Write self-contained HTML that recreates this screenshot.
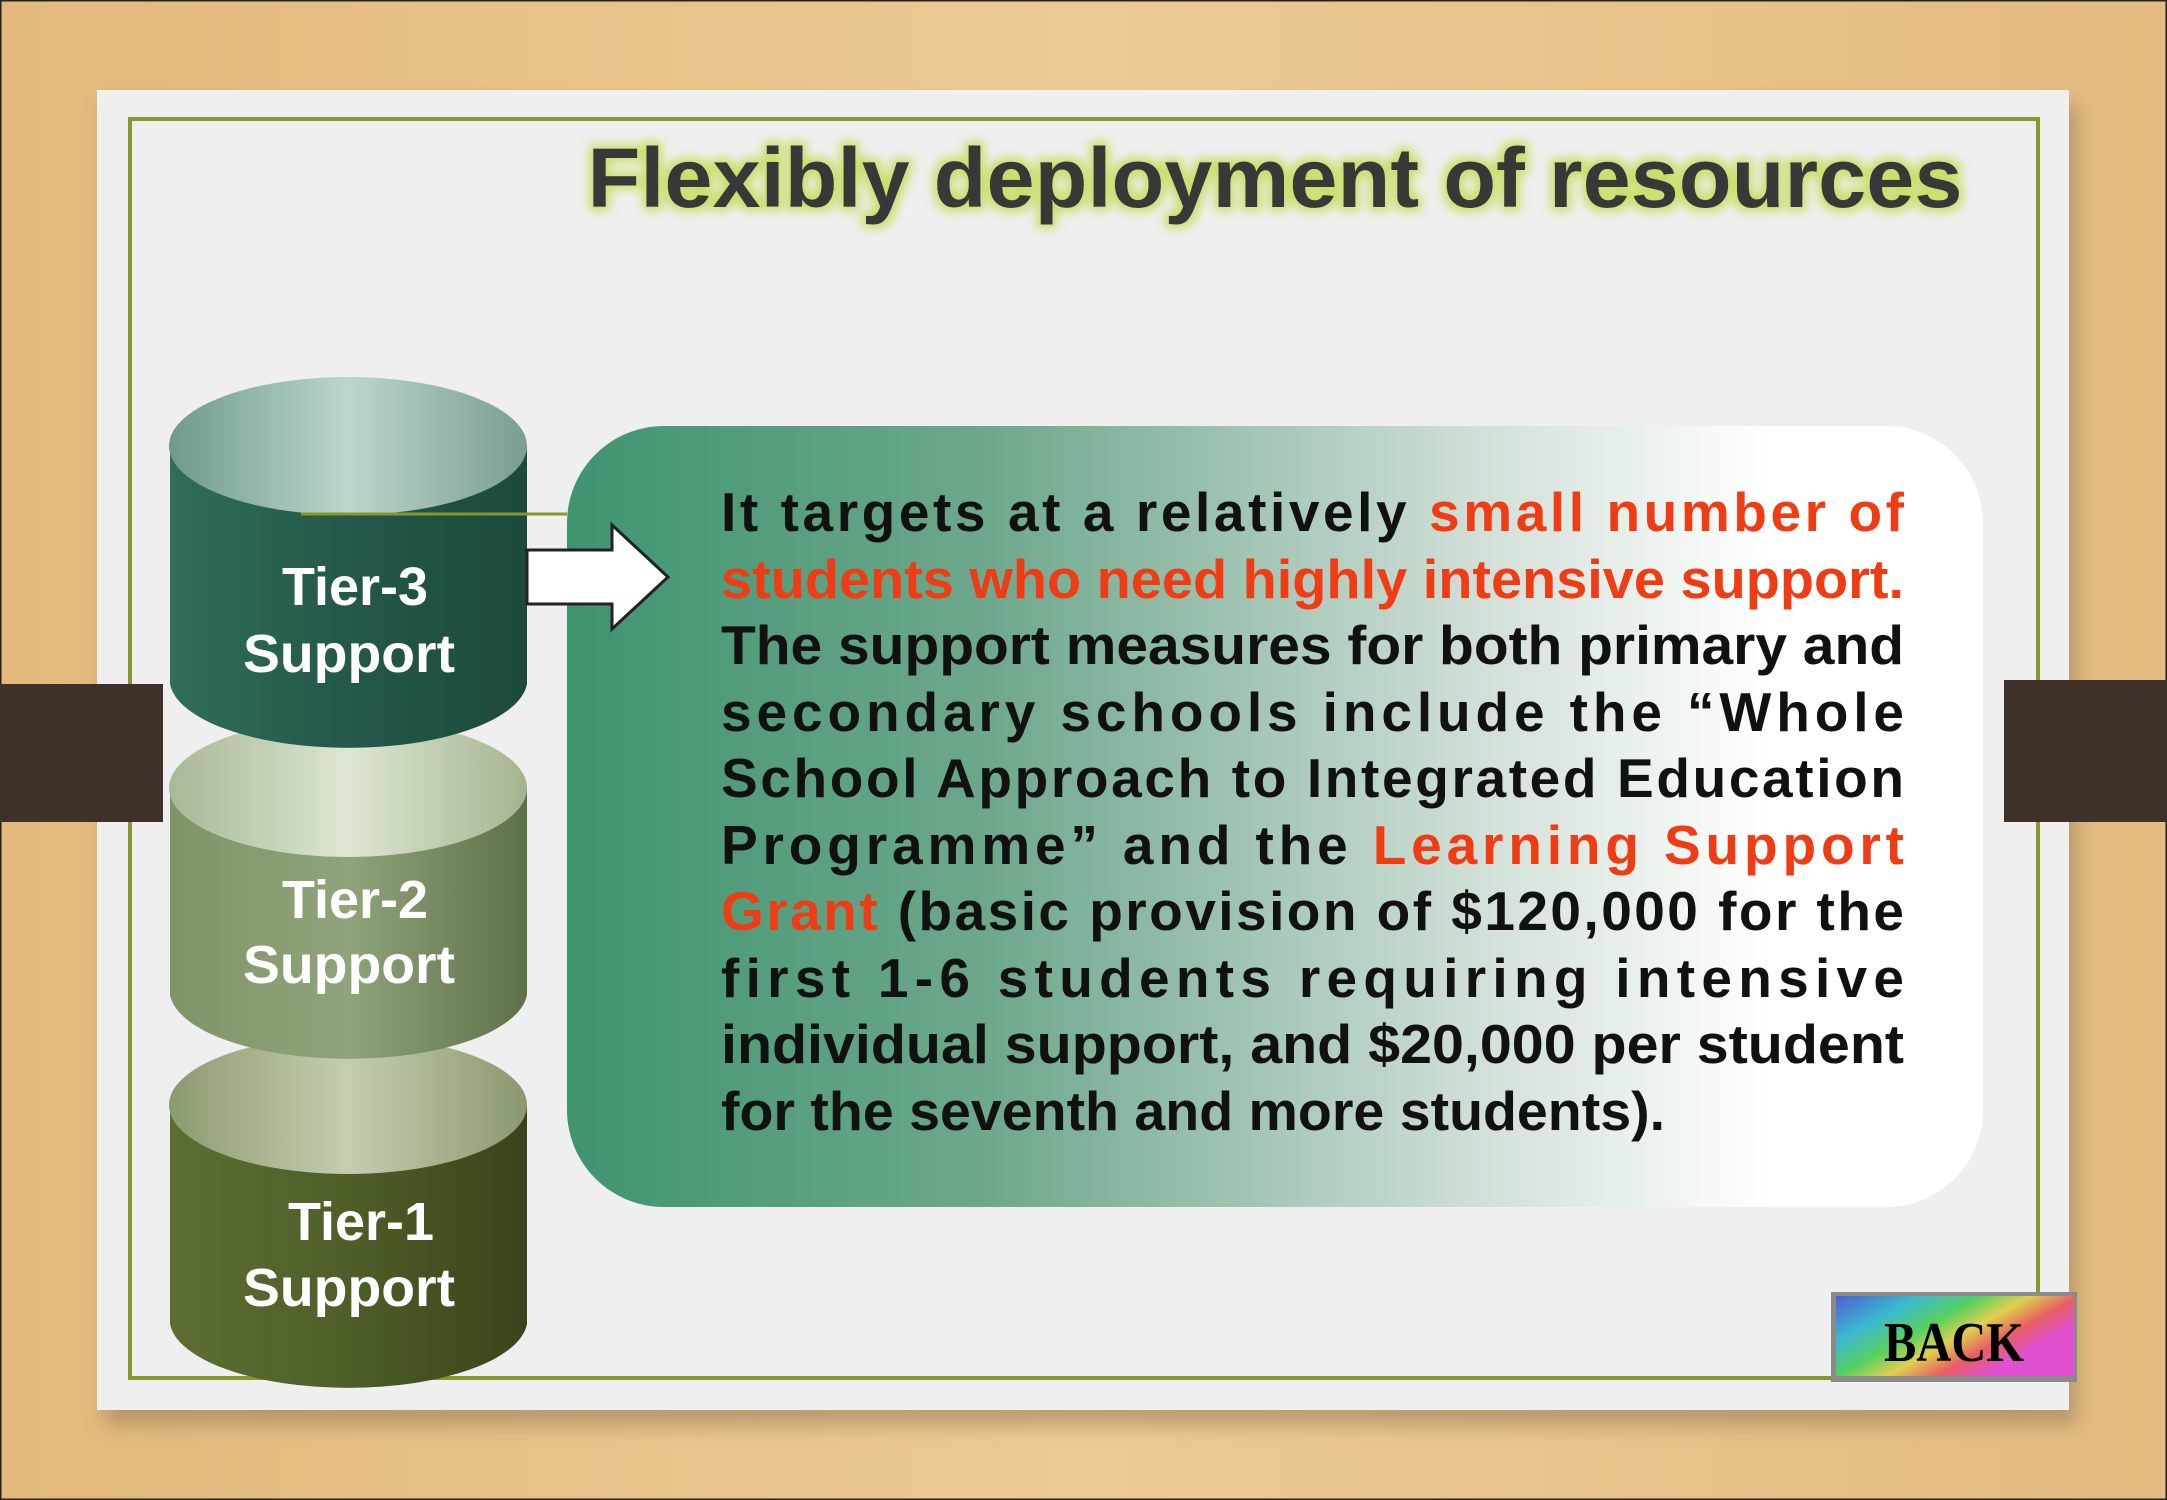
<!DOCTYPE html>
<html><head><meta charset="utf-8"><style>
html,body{margin:0;padding:0;width:2167px;height:1500px;overflow:hidden;background:#e6c188}
svg{display:block}
</style></head><body>
<svg width="2167" height="1500" viewBox="0 0 2167 1500" xmlns="http://www.w3.org/2000/svg">
<defs>
<linearGradient id="wood" x1="0" y1="0" x2="1" y2="0">
<stop offset="0" stop-color="#e3b97c"/><stop offset="0.5" stop-color="#ecca94"/><stop offset="1" stop-color="#e4bb80"/></linearGradient>
<linearGradient id="box" x1="0" y1="0" x2="1" y2="0">
<stop offset="0" stop-color="#3f9470"/><stop offset="0.3" stop-color="#6ea88d"/><stop offset="0.65" stop-color="#d2e0d8"/><stop offset="0.85" stop-color="#ffffff"/></linearGradient>
<linearGradient id="c3" x1="0" y1="0" x2="1" y2="0"><stop offset="0" stop-color="#2f6e58"/><stop offset="0.5" stop-color="#24584a"/><stop offset="1" stop-color="#1c4a3c"/></linearGradient>
<linearGradient id="c3t" x1="0" y1="0" x2="1" y2="0"><stop offset="0" stop-color="#6e9a8a"/><stop offset="0.5" stop-color="#bcd6cc"/><stop offset="1" stop-color="#7a9e90"/></linearGradient>
<linearGradient id="c2" x1="0" y1="0" x2="1" y2="0"><stop offset="0" stop-color="#7f9468"/><stop offset="0.5" stop-color="#8fa47a"/><stop offset="1" stop-color="#5e7048"/></linearGradient>
<linearGradient id="c2t" x1="0" y1="0" x2="1" y2="0"><stop offset="0" stop-color="#a8b896"/><stop offset="0.5" stop-color="#dde6d2"/><stop offset="1" stop-color="#a4b490"/></linearGradient>
<linearGradient id="c1" x1="0" y1="0" x2="1" y2="0"><stop offset="0" stop-color="#5c6e32"/><stop offset="0.5" stop-color="#4e5e28"/><stop offset="1" stop-color="#38441a"/></linearGradient>
<linearGradient id="c1t" x1="0" y1="0" x2="1" y2="0"><stop offset="0" stop-color="#8c9a70"/><stop offset="0.5" stop-color="#c4ceae"/><stop offset="1" stop-color="#8a9870"/></linearGradient>
<linearGradient id="rain" x1="0" y1="0" x2="1" y2="0.6">
<stop offset="0" stop-color="#4f5fd0"/><stop offset="0.25" stop-color="#3ab8d0"/><stop offset="0.45" stop-color="#58d060"/><stop offset="0.6" stop-color="#e0d050"/><stop offset="0.75" stop-color="#e86060"/><stop offset="0.9" stop-color="#e050d0"/></linearGradient>
<filter id="glow" x="-5%" y="-30%" width="110%" height="160%"><feMorphology in="SourceAlpha" operator="dilate" radius="4" result="d"/><feGaussianBlur in="d" stdDeviation="5" result="b"/><feFlood flood-color="#c6e06a"/><feComposite in2="b" operator="in" result="g"/><feMerge><feMergeNode in="g"/><feMergeNode in="SourceGraphic"/></feMerge></filter>
<filter id="sh" x="-5%" y="-5%" width="110%" height="115%"><feGaussianBlur stdDeviation="10"/></filter>
</defs>
<rect width="2167" height="1500" fill="url(#wood)"/>
<rect x="0.5" y="0.5" width="2166" height="1499" fill="none" stroke="#222" stroke-width="2"/>
<rect x="105" y="105" width="1972" height="1320" fill="#8a7050" opacity="0.5" filter="url(#sh)"/>
<rect x="97" y="90" width="1972" height="1320" fill="#efefef"/>
<rect x="130" y="119" width="1908" height="1259" fill="none" stroke="#86982a" stroke-width="4"/>
<rect x="0" y="684" width="163" height="138" fill="#3e3129"/>
<rect x="2004" y="680" width="163" height="142" fill="#3e3129"/>
<text x="1275" y="207" text-anchor="middle" font-family="Liberation Sans, sans-serif" font-weight="bold" font-size="84" fill="#383838" textLength="1375" lengthAdjust="spacingAndGlyphs" filter="url(#glow)">Flexibly deployment of resources</text>
<line x1="301" y1="514" x2="567" y2="514" stroke="#86982a" stroke-width="3"/>
<rect x="567" y="426" width="1416" height="781" rx="97" fill="url(#box)"/>
<g>
<path d="M170 1105 L170 1324 A179 69 0 0 0 527 1324 L527 1105 Z" fill="url(#c1)"/>
<ellipse cx="348" cy="1105" rx="179" ry="69" fill="url(#c1t)"/>
</g>
<g>
<path d="M170 788 L170 995 A179 69 0 0 0 527 995 L527 788 Z" fill="url(#c2)"/>
<ellipse cx="348" cy="788" rx="179" ry="69" fill="url(#c2t)"/>
</g>
<g>
<path d="M170 446 L170 684 A179 69 0 0 0 527 684 L527 446 Z" fill="url(#c3)"/>
<ellipse cx="348" cy="446" rx="179" ry="69" fill="url(#c3t)"/>
</g>
<line x1="301" y1="514" x2="527" y2="514" stroke="#86982a" stroke-width="3"/>
<g font-family="Liberation Sans, sans-serif" font-weight="bold" font-size="54" fill="#fff" text-anchor="middle">
<text x="355" y="605" textLength="146" lengthAdjust="spacingAndGlyphs">Tier-3</text>
<text x="349" y="672" textLength="212" lengthAdjust="spacingAndGlyphs">Support</text>
<text x="355" y="918" textLength="146" lengthAdjust="spacingAndGlyphs">Tier-2</text>
<text x="349" y="983" textLength="212" lengthAdjust="spacingAndGlyphs">Support</text>
<text x="361" y="1240" textLength="146" lengthAdjust="spacingAndGlyphs">Tier-1</text>
<text x="349" y="1306" textLength="212" lengthAdjust="spacingAndGlyphs">Support</text>
</g>
<path d="M527 550 L612 550 L612 525 L668 577 L612 629 L612 604 L527 604 Z" fill="#fff" stroke="#222" stroke-width="3"/>
<g font-family="Liberation Sans, sans-serif" font-weight="bold" font-size="55" fill="#111">
<text x="721" y="531" textLength="1183" lengthAdjust="spacing">It targets at a relatively <tspan fill="#f03c14">small number of</tspan></text>
<text x="721" y="598" textLength="1183" lengthAdjust="spacingAndGlyphs" fill="#f03c14">students who need highly intensive support.</text>
<text x="721" y="664" textLength="1183" lengthAdjust="spacingAndGlyphs">The support measures for both primary and</text>
<text x="721" y="731" textLength="1183" lengthAdjust="spacing">secondary schools include the “Whole</text>
<text x="721" y="797" textLength="1183" lengthAdjust="spacing">School Approach to Integrated Education</text>
<text x="721" y="864" textLength="1183" lengthAdjust="spacing">Programme” and the <tspan fill="#f03c14">Learning Support</tspan></text>
<text x="721" y="930" textLength="1183" lengthAdjust="spacing"><tspan fill="#f03c14">Grant</tspan> (basic provision of $120,000 for the</text>
<text x="721" y="997" textLength="1183" lengthAdjust="spacing">first 1-6 students requiring intensive</text>
<text x="721" y="1063" textLength="1183" lengthAdjust="spacingAndGlyphs">individual support, and $20,000 per student</text>
<text x="721" y="1130" textLength="944" lengthAdjust="spacingAndGlyphs">for the seventh and more students).</text>
</g>
<g>
<rect x="1831" y="1292" width="246" height="90" fill="#8a8a8a"/>
<rect x="1836" y="1296" width="238" height="80" fill="url(#rain)"/>
<text x="1954" y="1361" text-anchor="middle" font-family="Liberation Serif, serif" font-weight="bold" font-size="56" fill="#000" textLength="140" lengthAdjust="spacingAndGlyphs">BACK</text>
</g>
</svg>
</body></html>
